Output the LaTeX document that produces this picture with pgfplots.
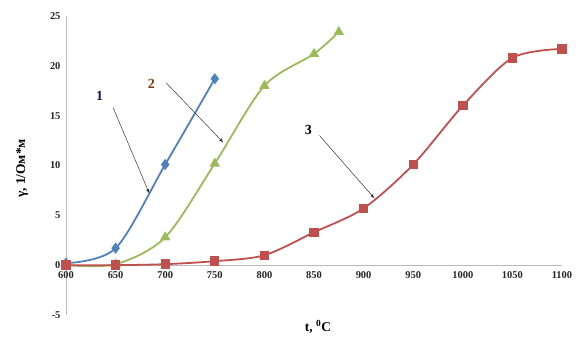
\documentclass[border=0pt]{standalone}
\usepackage{pgfplots}
\pgfplotsset{compat=1.18}
\usepackage{fontspec}
\setmainfont{Liberation Serif}
\definecolor{cblue}{HTML}{4F81BD}
\definecolor{cgreen}{HTML}{9BBB59}
\definecolor{cred}{HTML}{C0504D}
\begin{document}
\begin{tikzpicture}[x=1bp,y=1bp]
\path[use as bounding box] (-66,-21) rectangle (510,315);
\begin{axis}[
  at={(0,0)}, anchor=south west,
  scale only axis, width=496bp, height=299bp,
  xmin=600, xmax=1100, ymin=-5, ymax=25,
  axis x line=middle, axis y line=left,
  hide obscured x ticks=false, hide obscured y ticks=false,
  axis line style={-, gray!55, line width=0.8pt},
  major tick length=0pt,
  xtick={600,650,...,1100}, ytick={-5,0,...,25},
  tick label style={font=\fontsize{10.5}{12}\selectfont\bfseries, text=black!85},
  /pgf/number format/assume math mode=true,
  /pgf/number format/1000 sep={},
  xticklabel style={yshift=-3bp},
  yticklabel style={xshift=-2bp},
  xlabel={t, \textsuperscript{0}C},
  ylabel={γ, 1/Ом*м},
  xlabel style={at={(axis description cs:0.508,-0.04)}, anchor=center, font=\fontsize{13.5}{15}\selectfont\bfseries},
  ylabel style={at={(axis description cs:-0.0887,0.49)}, rotate=0, anchor=center, font=\fontsize{13.5}{15}\selectfont\bfseries},
  clip=false,
]
\addplot[cblue, line width=1.8pt, smooth, tension=0.5, mark=diamond*, mark size=4.2bp, mark options={fill=cblue, draw=cblue}]
coordinates {(600,0.2) (650,1.7) (700,10.1) (750,18.7)};
\addplot[cgreen, line width=1.8pt, smooth, tension=0.5, mark=triangle*, mark size=4.2bp, mark options={fill=cgreen, draw=cgreen}]
coordinates {(600,0) (650,0.1) (700,2.8) (750,10.2) (800,18.0) (850,21.2) (875,23.4)};
\addplot[cred, line width=1.8pt, smooth, tension=0.5, mark=square*, mark size=3.8bp, mark options={fill=cred, draw=cred}]
coordinates {(600,0) (650,0) (700,0.1) (750,0.4) (800,1.0) (850,3.3) (900,5.7) (950,10.1) (1000,16.0) (1050,20.8) (1100,21.7)};
\draw[-latex, black!80, line width=0.5pt] (axis cs:647.5,15.8) -- (axis cs:684,7.2);
\draw[-latex, black!80, line width=0.5pt] (axis cs:701,18.3) -- (axis cs:758.6,12.3);
\draw[-latex, black!80, line width=0.5pt] (axis cs:855.6,13.0) -- (axis cs:911,6.7);
\node[font=\fontsize{14}{15}\selectfont\bfseries, text={rgb,255:red,20;green,20;blue,110}] at (axis cs:634,17.0) {1};
\node[font=\fontsize{14}{15}\selectfont\bfseries, text={rgb,255:red,120;green,60;blue,10}] at (axis cs:686,18.2) {2};
\node[font=\fontsize{14}{15}\selectfont\bfseries, text=black] at (axis cs:844.4,13.6) {3};
\end{axis}
\end{tikzpicture}
\end{document}
